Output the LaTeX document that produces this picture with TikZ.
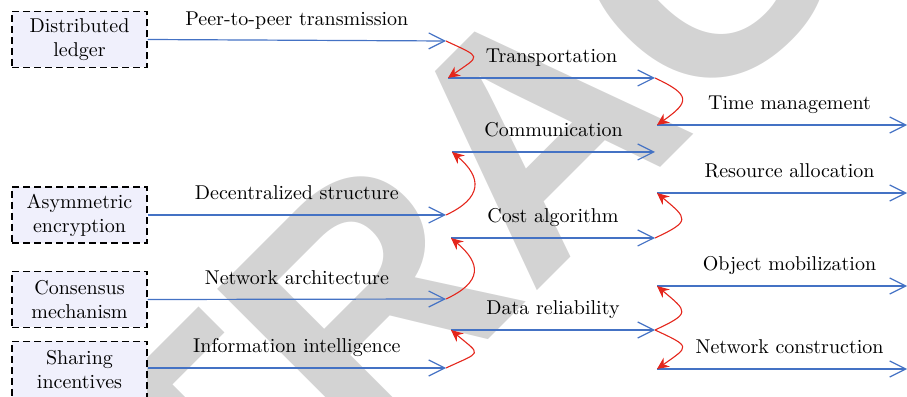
\documentclass[tikz,border=0pt]{standalone}
\usepackage{fontspec}
\usepackage{tikz}
\usetikzlibrary{arrows.meta}

\newfontfamily\wmfont{Liberation Sans}

\definecolor{boxfill}{RGB}{240,240,252}
\definecolor{flowblue}{RGB}{68,114,196}
\definecolor{hopred}{RGB}{228,38,28}
\definecolor{wmgray}{RGB}{211,211,211}

\tikzset{
    box/.style={draw, line width=0.7pt, dash pattern=on 3.5pt off 2pt, fill=boxfill,
        minimum width=67.5pt, minimum height=28pt, align=center, inner sep=1pt},
    flow/.style={draw=flowblue, line width=0.6pt, -{Straight Barb[length=8pt,width=8pt]}},
    lbl/.style={anchor=base, yshift=7.5pt, inner sep=0pt},
    hopdown/.style={draw=hopred, line width=0.55pt, -{Stealth[length=6pt,width=5.5pt,inset=2pt]},
        out=-25, in=35, distance=20pt},
    hopup/.style={draw=hopred, line width=0.55pt, -{Stealth[length=6pt,width=5.5pt,inset=2pt]},
        out=25, in=-40, distance=20pt},
    wmark/.style={text=wmgray, inner sep=0pt,
        font=\wmfont\bfseries\fontsize{165}{165}\selectfont}
}

\begin{document}
\begin{tikzpicture}[x=0.5pt,y=0.5pt]
    \useasboundingbox (0,0) rectangle (907,397);
    \clip (0,0) rectangle (907,397);

    % Draw the watermark
    \node[wmark, rotate=45] (stamp) at (535,265) {RETRACTED};

    % Draw the boxes
    \node[box] (dl) at (79.5,357.5) {Distributed\\ledger};
    \node[box] (ae) at (79.5,182) {Asymmetric\\encryption};
    \node[box] (cm) at (79.5,97.5) {Consensus\\mechanism};
    \node[box] (si) at (79.5,27.5) {Sharing\\incentives};

    % End points of the arrows
    \coordinate (ptE) at (446,356);
    \coordinate (dsE) at (446,182);
    \coordinate (naE) at (446,98);
    \coordinate (iiE) at (446,29);

    \coordinate (trS) at (448,319);
    \coordinate (trE) at (655,319);
    \coordinate (coS) at (452,245);
    \coordinate (coE) at (655,245);
    \coordinate (caS) at (451,159);
    \coordinate (caE) at (655,159);
    \coordinate (drS) at (451,67);
    \coordinate (drE) at (655,67);

    \coordinate (tmS) at (657,272);
    \coordinate (tmE) at (907,272);
    \coordinate (raS) at (657,204);
    \coordinate (raE) at (907,204);
    \coordinate (omS) at (657,111);
    \coordinate (omE) at (907,111);
    \coordinate (ncS) at (657,28);
    \coordinate (ncE) at (907,28);

    % Draw the first column
    \draw[flow] (dl.east) -- node[lbl] (lpt) {Peer-to-peer transmission} (ptE);
    \draw[flow] (ae.east) -- node[lbl] (lds) {Decentralized structure} (dsE);
    \draw[flow] (cm.east) -- node[lbl] (lna) {Network architecture} (naE);
    \draw[flow] (si.east |- iiE) -- node[lbl] (lii) {Information intelligence} (iiE);

    % Draw the second column
    \draw[flow] (trS) -- node[lbl] (ltr) {Transportation} (trE);
    \draw[flow] (coS) -- node[lbl] (lco) {Communication} (coE);
    \draw[flow] (caS) -- node[lbl] (lca) {Cost algorithm} (caE);
    \draw[flow] (drS) -- node[lbl] (ldr) {Data reliability} (drE);

    % Draw the third column
    \draw[flow] (tmS) -- node[lbl, pos=0.53] (ltm) {Time management} (tmE);
    \draw[flow] (raS) -- node[lbl, pos=0.53] (lra) {Resource allocation} (raE);
    \draw[flow] (omS) -- node[lbl, pos=0.53] (lom) {Object mobilization} (omE);
    \draw[flow] (ncS) -- node[lbl, pos=0.53] (lnc) {Network construction} (ncE);

    % Draw the red links
    \draw[hopdown] (ptE) to (trS);
    \draw[hopdown] (trE) to (tmS);
    \draw[hopdown] (drE) to (ncS);
    \draw[hopup] (dsE) to (coS);
    \draw[hopup] (naE) to (caS);
    \draw[hopup] (iiE) to (drS);
    \draw[hopup] (caE) to (raS);
    \draw[hopup] (drE) to (omS);
\end{tikzpicture}
\end{document}
